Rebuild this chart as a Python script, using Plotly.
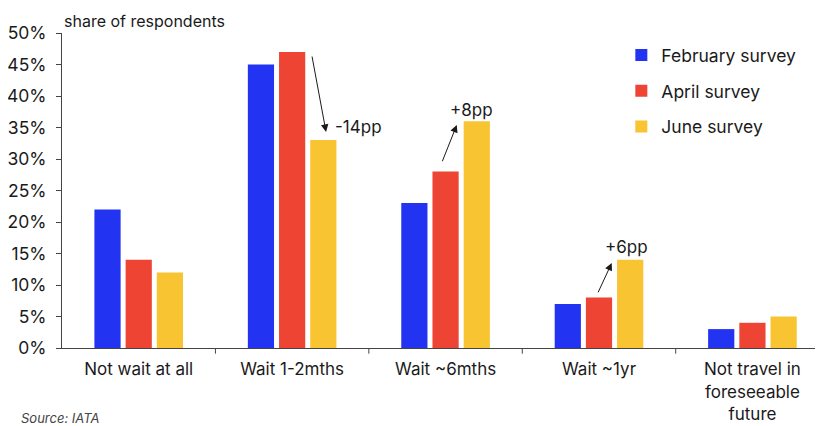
import plotly.graph_objects as go

categories = ["Not wait at all", "Wait 1-2mths", "Wait ~6mths", "Wait ~1yr", "Not travel in<br>foreseeable<br>future"]
feb = [22, 45, 23, 7, 3]
apr = [14, 47, 28, 8, 4]
jun = [12, 33, 36, 14, 5]
series_names = ["February survey", "April survey", "June survey"]
colors = ["#2233F2", "#EE4433", "#F8C432"]
y_ticks = [0, 5, 10, 15, 20, 25, 30, 35, 40, 45, 50]
y_ticklabels = [f"{v}%" for v in y_ticks]

fig = go.Figure()
for name, vals, c in zip(series_names, [feb, apr, jun], colors):
    fig.add_trace(go.Bar(x=list(range(len(categories))), y=vals, name=name, legendgroup=name,
                         marker=dict(color=c, line=dict(width=0))))

font_family = "Inter, Liberation Sans, Arial, sans-serif"

# page body has an 8px margin, so the figure is sized 8px smaller than the window
fig.update_layout(
    width=815, height=418,
    margin=dict(l=54, r=0, t=25, b=78, autoexpand=False),
    paper_bgcolor="white", plot_bgcolor="white",
    barmode="group", bargap=0.39, bargroupgap=0.16,
    font=dict(family=font_family, size=17, color="#1a1a1a"),
    legend=dict(x=0.735, y=0.987, xanchor="left", yanchor="top",
                font=dict(size=17.5, color="#1a1a1a"), itemwidth=30,
                traceorder="grouped", tracegroupgap=10, bgcolor="rgba(0,0,0,0)"),
    showlegend=True,
)
fig.update_xaxes(
    tickmode="array", tickvals=list(range(len(categories))), ticktext=categories,
    range=[-0.5, 4.46], showline=True, linecolor="#444", linewidth=1,
    ticks="", showgrid=False, zeroline=False, tickfont=dict(size=17, color="#1a1a1a"),
    ticklabelstandoff=6,
)
fig.update_yaxes(
    range=[0, 50], tickvals=y_ticks, ticktext=y_ticklabels,
    showline=True, linecolor="#444", linewidth=1, ticks="outside", ticklen=5,
    tickcolor="#444", showgrid=False, zeroline=False, tickfont=dict(size=17.5, color="#1a1a1a"),
    ticklabelstandoff=6,
)

# category boundary ticks on x axis
for b in [0.5, 1.5, 2.5, 3.5]:
    fig.add_shape(type="line", xref="x", yref="paper", x0=b, x1=b, y0=0, y1=-0.018,
                  line=dict(color="#444", width=1))

fig.add_annotation(text="share of respondents", xref="paper", yref="paper", x=0.0, y=1.0,
                   xanchor="left", yanchor="bottom", yshift=0, showarrow=False,
                   font=dict(size=16, color="#1a1a1a"))
fig.add_annotation(text="<i>Source: IATA</i>", xref="paper", yref="paper", x=-0.057, y=-0.19,
                   xanchor="left", yanchor="top", showarrow=False,
                   font=dict(size=13, color="#444"))

arrows = [
    (1.221, 34.3, 1.128, 46.5, "-14pp", 1.43, 35.1),
    (2.073, 35.4, 1.975, 29.4, "+8pp", 2.17, 37.8),
    (3.083, 13.5, 2.99, 8.6, "+6pp", 3.18, 16.0),
]
for hx, hy, tx, ty, label, lx, ly in arrows:
    fig.add_annotation(x=hx, y=hy, ax=tx, ay=ty, xref="x", yref="y", axref="x", ayref="y",
                       text="", showarrow=True, arrowhead=2, arrowsize=1.5, arrowwidth=1,
                       arrowcolor="#1a1a1a")
    fig.add_annotation(x=lx, y=ly, xref="x", yref="y", text=label, showarrow=False,
                       font=dict(size=17, color="#1a1a1a"))

fig.write_html("out.html")
